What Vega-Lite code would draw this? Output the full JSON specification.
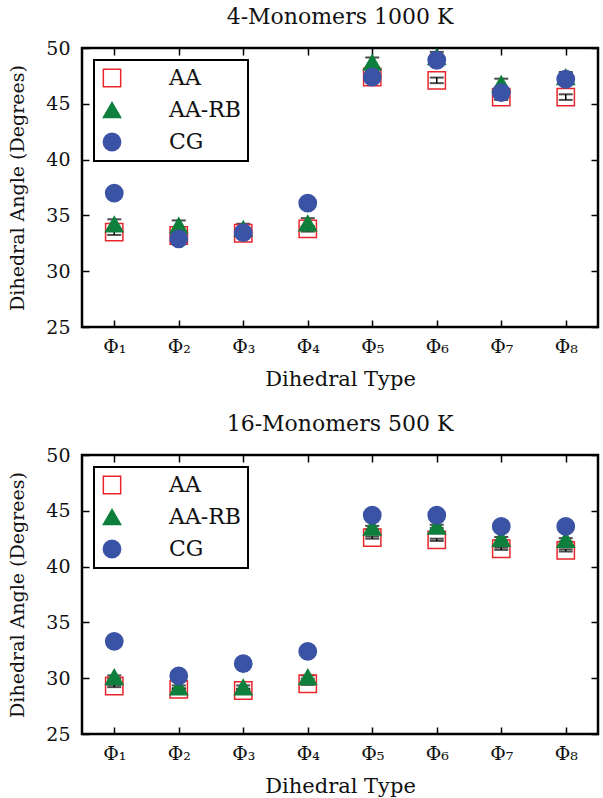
{
  "$schema": "https://vega.github.io/schema/vega-lite/v6.json",
  "autosize": {"type": "pad"},
  "padding": {"left": 7, "top": 4, "right": 0, "bottom": 0},
  "background": "white",
  "bounds": "flush",
  "spacing": 128,
  "config": {
    "font": "DejaVu Serif",
    "view": {"stroke": "black", "strokeWidth": 2.5},
    "axis": {
      "domain": false,
      "grid": false,
      "tickColor": "black",
      "tickSize": -7,
      "tickWidth": 1.5,
      "labelFont": "DejaVu Serif",
      "labelFontSize": 19,
      "labelColor": "#111",
      "titleFont": "DejaVu Serif",
      "titleFontSize": 19,
      "titleFontWeight": "normal",
      "titleColor": "#111"
    },
    "title": {"font": "DejaVu Serif", "fontSize": 22, "fontWeight": "normal", "color": "#111", "offset": 10},
    "legend": {
      "orient": "top-left",
      "offset": 12,
      "strokeColor": "black",
      "strokeWidth": 2,
      "padding": 7,
      "rowPadding": 9,
      "symbolSize": 300,
      "symbolStrokeWidth": 1.5,
      "labelFont": "DejaVu Serif",
      "labelFontSize": 22,
      "labelColor": "#111",
      "labelOffset": 46,
      "fillColor": "white"
    }
  },
  "datasets": {
    "angles": [
      {"panel": "4-Monomers 1000 K", "dihedral": "Φ₁", "method": "AA", "angle": 33.5, "err": 0.25},
      {"panel": "4-Monomers 1000 K", "dihedral": "Φ₁", "method": "AA-RB", "angle": 34.2, "err": 0.45},
      {"panel": "4-Monomers 1000 K", "dihedral": "Φ₁", "method": "CG", "angle": 37.0, "err": 0.3},
      {"panel": "4-Monomers 1000 K", "dihedral": "Φ₂", "method": "AA", "angle": 33.2, "err": 0.25},
      {"panel": "4-Monomers 1000 K", "dihedral": "Φ₂", "method": "AA-RB", "angle": 34.1, "err": 0.45},
      {"panel": "4-Monomers 1000 K", "dihedral": "Φ₂", "method": "CG", "angle": 32.9, "err": 0.3},
      {"panel": "4-Monomers 1000 K", "dihedral": "Φ₃", "method": "AA", "angle": 33.4, "err": 0.25},
      {"panel": "4-Monomers 1000 K", "dihedral": "Φ₃", "method": "AA-RB", "angle": 33.8, "err": 0.45},
      {"panel": "4-Monomers 1000 K", "dihedral": "Φ₃", "method": "CG", "angle": 33.45, "err": 0.3},
      {"panel": "4-Monomers 1000 K", "dihedral": "Φ₄", "method": "AA", "angle": 33.8, "err": 0.25},
      {"panel": "4-Monomers 1000 K", "dihedral": "Φ₄", "method": "AA-RB", "angle": 34.3, "err": 0.45},
      {"panel": "4-Monomers 1000 K", "dihedral": "Φ₄", "method": "CG", "angle": 36.1, "err": 0.3},
      {"panel": "4-Monomers 1000 K", "dihedral": "Φ₅", "method": "AA", "angle": 47.4, "err": 0.25},
      {"panel": "4-Monomers 1000 K", "dihedral": "Φ₅", "method": "AA-RB", "angle": 48.7, "err": 0.45},
      {"panel": "4-Monomers 1000 K", "dihedral": "Φ₅", "method": "CG", "angle": 47.4, "err": 0.3},
      {"panel": "4-Monomers 1000 K", "dihedral": "Φ₆", "method": "AA", "angle": 47.1, "err": 0.25},
      {"panel": "4-Monomers 1000 K", "dihedral": "Φ₆", "method": "AA-RB", "angle": 49.2, "err": 0.45},
      {"panel": "4-Monomers 1000 K", "dihedral": "Φ₆", "method": "CG", "angle": 48.9, "err": 0.3},
      {"panel": "4-Monomers 1000 K", "dihedral": "Φ₇", "method": "AA", "angle": 45.6, "err": 0.25},
      {"panel": "4-Monomers 1000 K", "dihedral": "Φ₇", "method": "AA-RB", "angle": 46.8, "err": 0.45},
      {"panel": "4-Monomers 1000 K", "dihedral": "Φ₇", "method": "CG", "angle": 46.0, "err": 0.3},
      {"panel": "4-Monomers 1000 K", "dihedral": "Φ₈", "method": "AA", "angle": 45.6, "err": 0.25},
      {"panel": "4-Monomers 1000 K", "dihedral": "Φ₈", "method": "AA-RB", "angle": 47.4, "err": 0.45},
      {"panel": "4-Monomers 1000 K", "dihedral": "Φ₈", "method": "CG", "angle": 47.2, "err": 0.3},
      {"panel": "16-Monomers 500 K", "dihedral": "Φ₁", "method": "AA", "angle": 29.3, "err": 0.1},
      {"panel": "16-Monomers 500 K", "dihedral": "Φ₁", "method": "AA-RB", "angle": 30.1, "err": 0.15},
      {"panel": "16-Monomers 500 K", "dihedral": "Φ₁", "method": "CG", "angle": 33.3, "err": 0.1},
      {"panel": "16-Monomers 500 K", "dihedral": "Φ₂", "method": "AA", "angle": 29.0, "err": 0.1},
      {"panel": "16-Monomers 500 K", "dihedral": "Φ₂", "method": "AA-RB", "angle": 29.2, "err": 0.15},
      {"panel": "16-Monomers 500 K", "dihedral": "Φ₂", "method": "CG", "angle": 30.2, "err": 0.1},
      {"panel": "16-Monomers 500 K", "dihedral": "Φ₃", "method": "AA", "angle": 28.9, "err": 0.1},
      {"panel": "16-Monomers 500 K", "dihedral": "Φ₃", "method": "AA-RB", "angle": 29.2, "err": 0.15},
      {"panel": "16-Monomers 500 K", "dihedral": "Φ₃", "method": "CG", "angle": 31.3, "err": 0.1},
      {"panel": "16-Monomers 500 K", "dihedral": "Φ₄", "method": "AA", "angle": 29.5, "err": 0.1},
      {"panel": "16-Monomers 500 K", "dihedral": "Φ₄", "method": "AA-RB", "angle": 30.1, "err": 0.15},
      {"panel": "16-Monomers 500 K", "dihedral": "Φ₄", "method": "CG", "angle": 32.4, "err": 0.1},
      {"panel": "16-Monomers 500 K", "dihedral": "Φ₅", "method": "AA", "angle": 42.6, "err": 0.1},
      {"panel": "16-Monomers 500 K", "dihedral": "Φ₅", "method": "AA-RB", "angle": 43.5, "err": 0.15},
      {"panel": "16-Monomers 500 K", "dihedral": "Φ₅", "method": "CG", "angle": 44.6, "err": 0.1},
      {"panel": "16-Monomers 500 K", "dihedral": "Φ₆", "method": "AA", "angle": 42.4, "err": 0.1},
      {"panel": "16-Monomers 500 K", "dihedral": "Φ₆", "method": "AA-RB", "angle": 43.6, "err": 0.15},
      {"panel": "16-Monomers 500 K", "dihedral": "Φ₆", "method": "CG", "angle": 44.6, "err": 0.1},
      {"panel": "16-Monomers 500 K", "dihedral": "Φ₇", "method": "AA", "angle": 41.6, "err": 0.1},
      {"panel": "16-Monomers 500 K", "dihedral": "Φ₇", "method": "AA-RB", "angle": 42.5, "err": 0.15},
      {"panel": "16-Monomers 500 K", "dihedral": "Φ₇", "method": "CG", "angle": 43.6, "err": 0.1},
      {"panel": "16-Monomers 500 K", "dihedral": "Φ₈", "method": "AA", "angle": 41.45, "err": 0.1},
      {"panel": "16-Monomers 500 K", "dihedral": "Φ₈", "method": "AA-RB", "angle": 42.4, "err": 0.15},
      {"panel": "16-Monomers 500 K", "dihedral": "Φ₈", "method": "CG", "angle": 43.6, "err": 0.1}
    ]
  },
  "vconcat": [
    {
      "title": "4-Monomers 1000 K",
      "width": 516,
      "height": 279,
      "data": {"name": "angles"},
      "transform": [{"filter": "datum.panel === '4-Monomers 1000 K'"}],
      "layer": [
        {
          "mark": {"type": "errorbar", "color": "black", "thickness": 1.5, "ticks": {"size": 14, "thickness": 2, "color": "black"}},
          "encoding": {
            "x": {"field": "dihedral", "type": "ordinal", "sort": ["Φ₁", "Φ₂", "Φ₃", "Φ₄", "Φ₅", "Φ₆", "Φ₇", "Φ₈"], "scale": {"type": "point", "padding": 0.5}, "axis": {"orient": "top", "labels": false, "title": null}},
            "y": {"field": "angle", "type": "quantitative", "scale": {"domain": [25, 50], "nice": false, "zero": false}, "axis": {"orient": "right", "labels": false, "title": null, "values": [25, 30, 35, 40, 45, 50]}},
            "yError": {"field": "err"},
            "detail": {"field": "method"}
          }
        },
        {
          "mark": {"type": "point", "filled": true, "strokeWidth": 1.5, "opacity": 1},
          "encoding": {
            "x": {"field": "dihedral", "type": "ordinal", "sort": ["Φ₁", "Φ₂", "Φ₃", "Φ₄", "Φ₅", "Φ₆", "Φ₇", "Φ₈"], "scale": {"type": "point", "padding": 0.5}, "axis": {"orient": "bottom", "title": "Dihedral Type", "labelAngle": 0, "labelPadding": 17, "titlePadding": 12, "titleFontSize": 21}},
            "y": {"field": "angle", "type": "quantitative", "scale": {"domain": [25, 50], "nice": false, "zero": false}, "axis": {"orient": "left", "title": "Dihedral Angle (Degrees)", "values": [25, 30, 35, 40, 45, 50], "labelPadding": 19, "titlePadding": 18}},
            "shape": {"field": "method", "type": "nominal", "scale": {"domain": ["AA", "AA-RB", "CG"], "range": ["square", "triangle-up", "circle"]}, "legend": {"title": null, "symbolSize": 300}},
            "fill": {"field": "method", "type": "nominal", "scale": {"domain": ["AA", "AA-RB", "CG"], "range": ["transparent", "#0e7f3c", "#3a53a5"]}, "legend": {"title": null}},
            "stroke": {"field": "method", "type": "nominal", "scale": {"domain": ["AA", "AA-RB", "CG"], "range": ["#e8262b", "#0e7f3c", "#3a53a5"]}, "legend": {"title": null}},
            "size": {"value": 300}
          }
        }
      ],
      "resolve": {"axis": {"x": "independent", "y": "independent"}}
    },
    {
      "title": "16-Monomers 500 K",
      "width": 516,
      "height": 279,
      "data": {"name": "angles"},
      "transform": [{"filter": "datum.panel === '16-Monomers 500 K'"}],
      "layer": [
        {
          "mark": {"type": "errorbar", "color": "black", "thickness": 1.5, "ticks": {"size": 14, "thickness": 2, "color": "black"}},
          "encoding": {
            "x": {"field": "dihedral", "type": "ordinal", "sort": ["Φ₁", "Φ₂", "Φ₃", "Φ₄", "Φ₅", "Φ₆", "Φ₇", "Φ₈"], "scale": {"type": "point", "padding": 0.5}, "axis": {"orient": "top", "labels": false, "title": null}},
            "y": {"field": "angle", "type": "quantitative", "scale": {"domain": [25, 50], "nice": false, "zero": false}, "axis": {"orient": "right", "labels": false, "title": null, "values": [25, 30, 35, 40, 45, 50]}},
            "yError": {"field": "err"},
            "detail": {"field": "method"}
          }
        },
        {
          "mark": {"type": "point", "filled": true, "strokeWidth": 1.5, "opacity": 1},
          "encoding": {
            "x": {"field": "dihedral", "type": "ordinal", "sort": ["Φ₁", "Φ₂", "Φ₃", "Φ₄", "Φ₅", "Φ₆", "Φ₇", "Φ₈"], "scale": {"type": "point", "padding": 0.5}, "axis": {"orient": "bottom", "title": "Dihedral Type", "labelAngle": 0, "labelPadding": 17, "titlePadding": 12, "titleFontSize": 21}},
            "y": {"field": "angle", "type": "quantitative", "scale": {"domain": [25, 50], "nice": false, "zero": false}, "axis": {"orient": "left", "title": "Dihedral Angle (Degrees)", "values": [25, 30, 35, 40, 45, 50], "labelPadding": 19, "titlePadding": 18}},
            "shape": {"field": "method", "type": "nominal", "scale": {"domain": ["AA", "AA-RB", "CG"], "range": ["square", "triangle-up", "circle"]}, "legend": {"title": null, "symbolSize": 300}},
            "fill": {"field": "method", "type": "nominal", "scale": {"domain": ["AA", "AA-RB", "CG"], "range": ["transparent", "#0e7f3c", "#3a53a5"]}, "legend": {"title": null}},
            "stroke": {"field": "method", "type": "nominal", "scale": {"domain": ["AA", "AA-RB", "CG"], "range": ["#e8262b", "#0e7f3c", "#3a53a5"]}, "legend": {"title": null}},
            "size": {"value": 300}
          }
        }
      ],
      "resolve": {"axis": {"x": "independent", "y": "independent"}}
    }
  ],
  "resolve": {"legend": {"shape": "independent", "fill": "independent", "stroke": "independent"}, "scale": {"shape": "independent", "fill": "independent", "stroke": "independent"}}
}
